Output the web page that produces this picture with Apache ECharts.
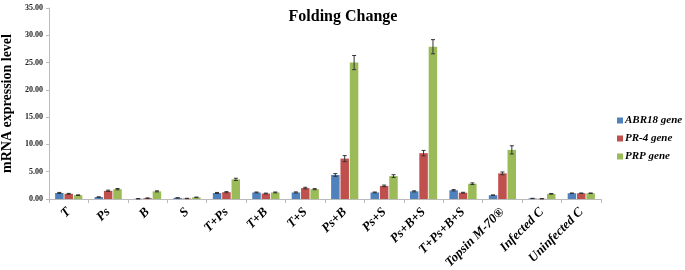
<!DOCTYPE html>
<html><head><meta charset="utf-8">
<script src="https://cdn.jsdelivr.net/npm/echarts@6/dist/echarts.min.js"></script>
<style>html,body{margin:0;padding:0;background:#fff}#c{width:685px;height:270px}</style>
</head><body><div id="c"></div>
<script>
const categories = ['T','Ps','B','S','T+Ps','T+B','T+S','Ps+B','Ps+S','Ps+B+S','T+Ps+B+S','Topsin M-70®','Infected C','Uninfected C'];
const seriesNames = ['ABR18 gene','PR-4 gene','PRP gene'];
const abr18 = [1.1, 0.35, 0.05, 0.2, 1.1, 1.2, 1.2, 4.4, 1.2, 1.4, 1.6, 0.7, 0.1, 1.05];
const pr4   = [0.95, 1.5, 0.15, 0.1, 1.25, 1.0, 2.0, 7.4, 2.4, 8.4, 1.15, 4.7, 0.05, 1.05];
const prp   = [0.7, 1.8, 1.4, 0.3, 3.6, 1.2, 1.8, 25.0, 4.2, 27.9, 2.8, 9.0, 0.95, 1.05];
const abr18Err = [0.1, 0.05, 0.03, 0.03, 0.1, 0.08, 0.1, 0.25, 0.08, 0.1, 0.12, 0.05, 0.03, 0.05];
const pr4Err   = [0.08, 0.12, 0.05, 0.03, 0.1, 0.08, 0.15, 0.55, 0.15, 0.5, 0.08, 0.25, 0.02, 0.05];
const prpErr   = [0.06, 0.12, 0.1, 0.05, 0.2, 0.08, 0.1, 1.3, 0.25, 1.3, 0.15, 0.75, 0.06, 0.05];
const yTicks = [0, 5, 10, 15, 20, 25, 30, 35];

const colors = ['#4F81BD','#C0504D','#9BBB59'];
const values = [abr18, pr4, prp];
const errs = [abr18Err, pr4Err, prpErr];
const BAR_W = 8.5, GAP = 0.9;
const serif = '"Liberation Serif", "DejaVu Serif", serif';

const series = [];
values.forEach((v, i) => {
  series.push({
    name: seriesNames[i], type: 'bar', data: v, barWidth: BAR_W, barGap: '10%',
    itemStyle: { color: colors[i] }
  });
});
values.forEach((v, i) => {
  series.push({
    type: 'custom', silent: true,
    data: v.map((val, k) => [k, val, errs[i][k]]),
    renderItem: function (params, api) {
      const k = api.value(0), val = api.value(1), e = api.value(2);
      const off = (i - 1) * (BAR_W + GAP);
      const hi = api.coord([k, val + e]);
      const lo = api.coord([k, val - e]);
      const x = hi[0] + off;
      const style = { stroke: '#333', lineWidth: 1 };
      return { type: 'group', children: [
        { type: 'line', shape: { x1: x, y1: hi[1], x2: x, y2: lo[1] }, style },
        { type: 'line', shape: { x1: x - 2, y1: hi[1], x2: x + 2, y2: hi[1] }, style },
        { type: 'line', shape: { x1: x - 2, y1: lo[1], x2: x + 2, y2: lo[1] }, style }
      ]};
    },
    z: 10
  });
});

const chart = echarts.init(document.getElementById('c'));
chart.setOption({
  animation: false,
  title: { text: 'Folding Change', left: 338, top: 4, textAlign: 'center',
    textStyle: { fontFamily: serif, fontWeight: 'bold', fontSize: 16, color: '#000' } },
  legend: {
    orient: 'vertical', left: 612, top: 110, itemWidth: 6, itemHeight: 6, itemGap: 7,
    icon: 'rect', data: seriesNames,
    textStyle: { fontFamily: serif, fontWeight: 'bold', fontStyle: 'italic', fontSize: 11, color: '#000', padding: [0,0,0,-3] }
  },
  grid: { left: 49, right: 84, top: 8, bottom: 71, outerBoundsMode: 'none', containLabel: false },
  xAxis: {
    type: 'category', data: categories,
    axisLine: { lineStyle: { color: '#bbb' } },
    axisTick: { show: true, length: 4, lineStyle: { color: '#bbb' } },
    axisLabel: { rotate: 45, interval: 0, margin: 11, fontFamily: serif, fontWeight: 'bold', fontStyle: 'italic', fontSize: 13, color: '#000' }
  },
  yAxis: {
    type: 'value', min: 0, max: 35, interval: 5,
    name: 'mRNA expression level', nameLocation: 'middle', nameGap: 33,
    nameTextStyle: { fontFamily: serif, fontWeight: 'bold', fontSize: 14, color: '#000' },
    axisLine: { show: true, lineStyle: { color: '#bbb' } },
    axisTick: { show: true, length: 3, lineStyle: { color: '#bbb' } },
    splitLine: { show: false },
    axisLabel: { fontFamily: serif, fontSize: 8, fontWeight: 'bold', color: '#222', margin: 6,
      formatter: v => yTicks.includes(v) ? v.toFixed(2) : '' }
  },
  series
});
</script></body></html>
